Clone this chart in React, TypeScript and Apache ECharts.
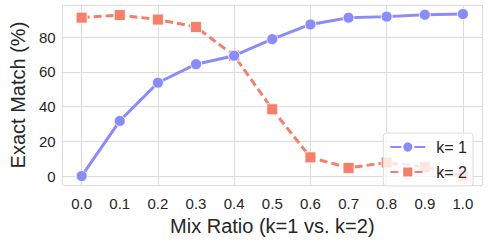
import React, { useEffect, useRef } from "react";
import * as echarts from "echarts";

const mixRatios = [0.0, 0.1, 0.2, 0.3, 0.4, 0.5, 0.6, 0.7, 0.8, 0.9, 1.0];
const k1Values = [0, 31.8, 53.8, 64.5, 69.4, 78.9, 87.4, 91.3, 91.9, 93.0, 93.4];
const k2Values = [91.3, 92.8, 90.2, 85.9, 69.4, 38.5, 10.8, 4.7, 7.8, 5.2, 0];
const yTicks = [0, 20, 40, 60, 80];
const seriesNames = ["k= 1", "k= 2"];
const xAxisTitle = "Mix Ratio (k=1 vs. k=2)";
const yAxisTitle = "Exact Match (%)";

const FONT = "'Liberation Sans', Arial, sans-serif";
const TEXT = "#262626";
const GRID = "#dcdcdc";

export default function App() {
  const ref = useRef<HTMLDivElement>(null);
  useEffect(() => {
    if (!ref.current) return;
    const chart = echarts.init(ref.current, undefined, { renderer: "svg" });
    const mk = (vals: number[]) => mixRatios.map((x, i) => [x, vals[i]]);
    chart.setOption({
      animation: false,
      backgroundColor: "#ffffff",
      grid: { left: 53, right: 6, top: 5, bottom: 50, containLabel: false },
      xAxis: {
        type: "value",
        min: -0.05,
        max: 1.05,
        name: xAxisTitle,
        nameLocation: "middle",
        nameGap: 27,
        nameTextStyle: { fontFamily: FONT, fontSize: 20, color: TEXT },
        axisLine: { show: true, lineStyle: { color: GRID, width: 1.2 } },
        axisTick: { show: false },
        axisLabel: {
          fontFamily: FONT,
          fontSize: 15,
          color: TEXT,
          margin: 11,
          customValues: mixRatios,
          formatter: (v: number) => v.toFixed(1),
        },
        splitLine: { show: true, lineStyle: { color: GRID, width: 1 } },
        customValues: mixRatios,
      },
      yAxis: {
        type: "value",
        min: -5.2,
        max: 98.6,
        name: yAxisTitle,
        nameLocation: "middle",
        nameGap: 28,
        nameTextStyle: { fontFamily: FONT, fontSize: 20, color: TEXT },
        axisLine: { show: true, lineStyle: { color: GRID, width: 1.2 } },
        axisTick: { show: false },
        axisLabel: {
          fontFamily: FONT,
          fontSize: 15,
          color: TEXT,
          margin: 7,
          customValues: yTicks,
        },
        splitLine: { show: true, lineStyle: { color: GRID, width: 1 } },
        customValues: yTicks,
      },
      legend: {
        right: 15,
        top: 133,
        orient: "vertical",
        itemWidth: 35,
        itemHeight: 14,
        itemGap: 9,
        padding: [6, 6, 6, 6],
        backgroundColor: "rgba(255,255,255,0.8)",
        borderColor: "#dddddd",
        borderWidth: 1,
        borderRadius: 3,
        textStyle: { fontFamily: FONT, fontSize: 16, color: TEXT, padding: [0, 0, 0, 6] },
        data: seriesNames,
      },
      series: [
        {
          name: seriesNames[0],
          type: "line",
          data: mk(k1Values),
          symbol: "circle",
          symbolSize: 11,
          lineStyle: { color: "#8a8cfa", width: 3 },
          itemStyle: { color: "#8a8cfa", borderColor: "#ffffff", borderWidth: 0.8 },
          z: 3,
        },
        {
          name: seriesNames[1],
          type: "line",
          data: mk(k2Values),
          symbol: "rect",
          symbolSize: 11,
          lineStyle: { color: "#f4806c", width: 3, type: [8, 4] },
          itemStyle: { color: "#f4806c", borderColor: "#ffffff", borderWidth: 0.8 },
          z: 2,
        },
      ],
    });
    return () => chart.dispose();
  }, []);
  return <div ref={ref} style={{ width: 488, height: 241, position: "absolute", left: 0, top: 0 }} />;
}
